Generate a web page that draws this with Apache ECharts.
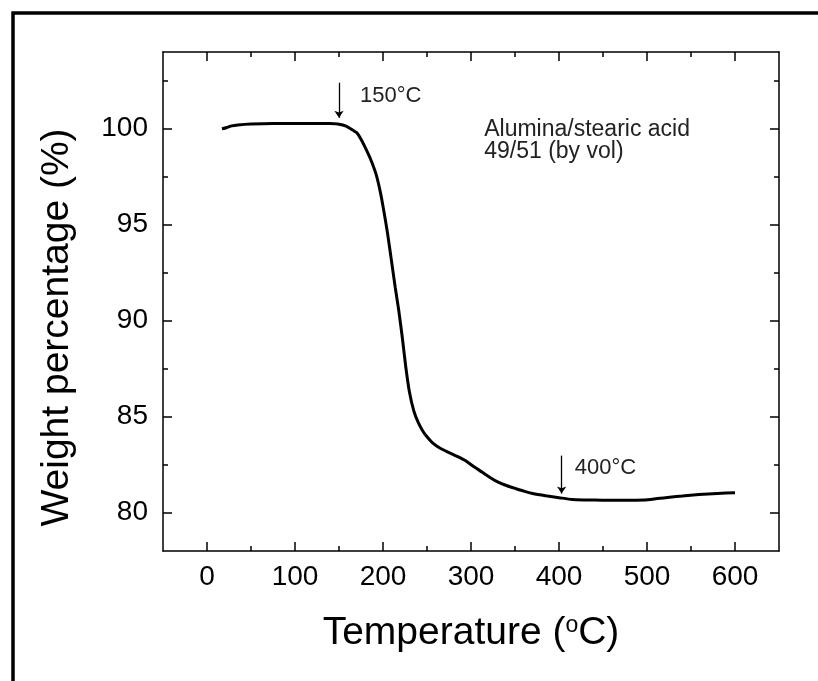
<!DOCTYPE html>
<html><head><meta charset="utf-8">
<script src="https://cdn.jsdelivr.net/npm/echarts@6/dist/echarts.min.js"></script>
<style>html,body{margin:0;padding:0;background:#fff}#chart{width:818px;height:681px}</style>
</head><body><div id="chart"></div>
<script>
// Data (temperature in °C, weight in %)
const temperature = [17, 22, 28, 35, 50, 75, 100, 125, 140, 150, 158, 165, 170, 175, 180, 186, 192, 197, 201, 205, 210, 214, 218, 222, 226, 230, 235, 240, 245, 250, 256, 265, 275, 285, 294, 303, 313, 322, 332, 341, 351, 360, 370, 385, 400, 415, 430, 450, 470, 497, 510, 521, 540, 559, 580, 600];
const weight = [100.0, 100.05, 100.15, 100.2, 100.25, 100.28, 100.28, 100.28, 100.27, 100.24, 100.14, 99.95, 99.8, 99.45, 99.0, 98.4, 97.65, 96.7, 95.7, 94.6, 93.0, 91.7, 90.5, 89.1, 87.55, 86.3, 85.3, 84.7, 84.27, 83.95, 83.65, 83.35, 83.13, 82.92, 82.7, 82.4, 82.1, 81.82, 81.56, 81.4, 81.25, 81.12, 81.0, 80.88, 80.78, 80.68, 80.66, 80.65, 80.65, 80.66, 80.72, 80.78, 80.86, 80.94, 81.0, 81.04];

const xMajorTicks = [0, 100, 200, 300, 400, 500, 600];
const xMinorTicks = [50, 150, 250, 350, 450, 550];
const yMajorTicks = [80, 85, 90, 95, 100];
const yMinorTicks = [82.5, 87.5, 92.5, 97.5, 102.5];

// annotation arrows (temperature, start weight, tip weight)
const arrowT = [150, 403];
const arrowFrom = [102.4, 82.97];
const arrowTo = [100.57, 80.99];
// annotation texts (anchor in data units)
const noteText = ['150°C', '400°C', 'Alumina/stearic acid\n49/51 (by vol)'];
const noteT = [174, 418, 315];
const noteW = [101.72, 82.34, 99.4];

const FONT = '"Liberation Sans", Arial, Helvetica, sans-serif';
const X_MIN = -50, X_MAX = 650, Y_MIN = 78, Y_MAX = 104;
const lineCol = '#000';

function xAx(pos, major, showLine, withLabel) {
  return {
    type: 'value', min: X_MIN, max: X_MAX, position: pos,
    axisLine: { show: showLine, onZero: false, lineStyle: { color: lineCol, width: 1.5 } },
    axisTick: { show: true, inside: true, length: major ? 9 : 5, customValues: major ? xMajorTicks : xMinorTicks, lineStyle: { color: lineCol, width: 1.5 } },
    axisLabel: withLabel ? { show: true, customValues: xMajorTicks, fontFamily: FONT, fontSize: 28, color: '#000', margin: 12 } : { show: false },
    splitLine: { show: false }
  };
}
function yAx(pos, major, showLine, withLabel) {
  return {
    type: 'value', min: Y_MIN, max: Y_MAX, position: pos,
    axisLine: { show: showLine, onZero: false, lineStyle: { color: lineCol, width: 1.5 } },
    axisTick: { show: true, inside: true, length: major ? 9 : 5, customValues: major ? yMajorTicks : yMinorTicks, lineStyle: { color: lineCol, width: 1.5 } },
    axisLabel: withLabel ? { show: true, customValues: yMajorTicks, fontFamily: FONT, fontSize: 28, color: '#000', margin: 15 } : { show: false },
    splitLine: { show: false }
  };
}

const xMain = xAx('bottom', true, true, true);
xMain.name = 'Temperature ({sup|o}C)';
xMain.nameLocation = 'middle';
xMain.nameGap = 63;
xMain.nameTextStyle = { fontFamily: FONT, fontSize: 39, color: '#000',
  rich: { sup: { fontFamily: FONT, fontSize: 23, color: '#000', verticalAlign: 'top' } } };

const yMain = yAx('left', true, true, true);
yMain.name = 'Weight percentage (%)';
yMain.nameLocation = 'middle';
yMain.nameGap = 86;
yMain.nameTextStyle = { fontFamily: FONT, fontSize: 39, color: '#000', padding: [0, 52, 0, 0] };

const chart = echarts.init(document.getElementById('chart'), null, { renderer: 'canvas' });
chart.setOption({
  animation: false,
  backgroundColor: '#fff',
  grid: { left: 163, top: 52, right: 39, bottom: 130, containLabel: false },
  graphic: [{
    type: 'rect', silent: true, z: 100,
    shape: { x: 13, y: 13, width: 900, height: 900 },
    style: { fill: 'none', stroke: '#000', lineWidth: 3.5 }
  }],
  xAxis: [xMain, xAx('bottom', false, false, false), xAx('top', true, true, false), xAx('top', false, false, false)],
  yAxis: [yMain, yAx('left', false, false, false), yAx('right', true, true, false), yAx('right', false, false, false)],
  series: [{
    type: 'line',
    xAxisIndex: 0, yAxisIndex: 0,
    data: temperature.map((t, i) => [t, weight[i]]),
    showSymbol: false, smooth: 0.2,
    lineStyle: { color: '#000', width: 3 },
    emphasis: { disabled: true },
    markLine: {
      silent: true, animation: false,
      symbol: ['none', 'arrow'], symbolSize: 7,
      label: { show: false },
      lineStyle: { color: '#000', width: 1.3, type: 'solid' },
      emphasis: { disabled: true },
      data: arrowT.map((t, i) => [{ coord: [t, arrowFrom[i]] }, { coord: [t, arrowTo[i]] }])
    },
    markPoint: {
      silent: true, animation: false,
      symbol: 'circle', symbolSize: 0,
      itemStyle: { color: 'rgba(0,0,0,0)' },
      data: noteText.map((txt, i) => ({
        coord: [noteT[i], noteW[i]],
        label: {
          show: true, position: 'right', distance: 0, formatter: txt,
          fontFamily: FONT, fontSize: i === 2 ? 23 : 22, lineHeight: i === 2 ? 22 : 22, color: '#222', align: 'left'
        }
      }))
    }
  }]
});
</script></body></html>
